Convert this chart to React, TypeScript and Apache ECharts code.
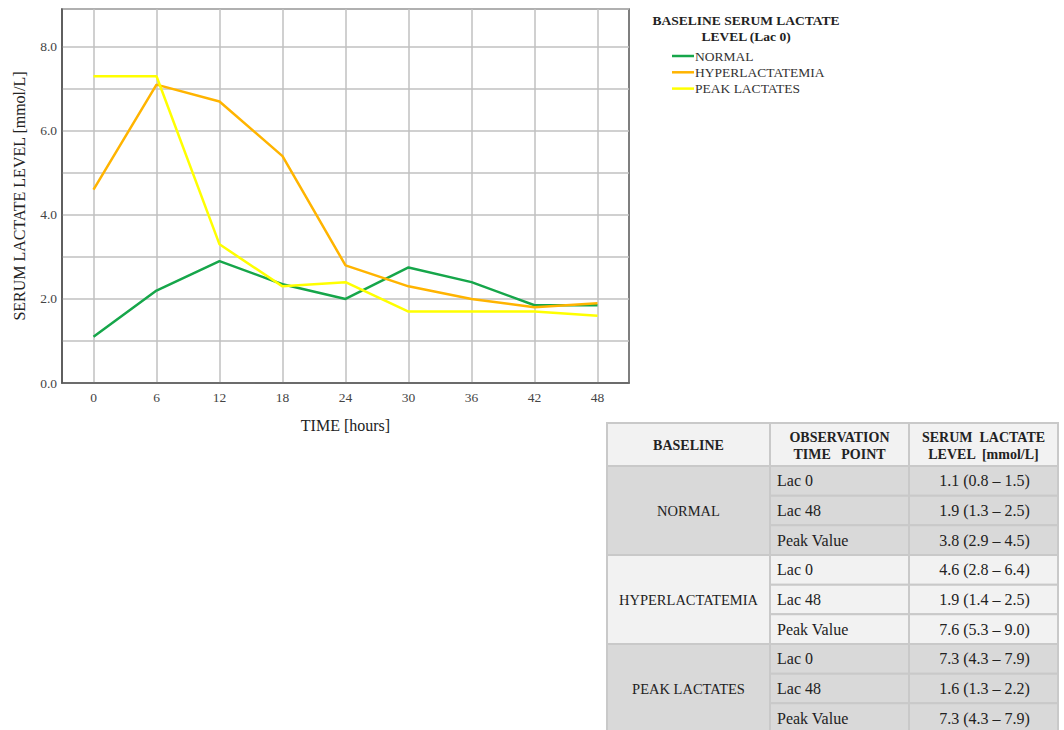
import React, { useEffect, useRef } from 'react';
import * as echarts from 'echarts';

const hours = ['0', '6', '12', '18', '24', '30', '36', '42', '48'];
const normalLevels = [1.1, 2.2, 2.9, 2.35, 2.0, 2.75, 2.4, 1.85, 1.85];
const hyperLevels = [4.6, 7.1, 6.7, 5.4, 2.8, 2.3, 2.0, 1.8, 1.9];
const peakLevels = [7.3, 7.3, 3.3, 2.3, 2.4, 1.7, 1.7, 1.7, 1.6];
const seriesNames = ['NORMAL', 'HYPERLACTATEMIA', 'PEAK LACTATES'];
const seriesColors = ['#16a64a', '#ffb400', '#ffff00'];
const legendTitle = ['BASELINE SERUM LACTATE', 'LEVEL (Lac 0)'];

const tableHeaders = ['BASELINE', 'OBSERVATION\nTIME   POINT', 'SERUM  LACTATE\nLEVEL  [mmol/L]'];
const timePoints = ['Lac 0', 'Lac 48', 'Peak Value'];
const normalValues = ['1.1 (0.8 – 1.5)', '1.9 (1.3 – 2.5)', '3.8 (2.9 – 4.5)'];
const hyperValues = ['4.6 (2.8 – 6.4)', '1.9 (1.4 – 2.5)', '7.6 (5.3 – 9.0)'];
const peakValues = ['7.3 (4.3 – 7.9)', '1.6 (1.3 – 2.2)', '7.3 (4.3 – 7.9)'];

const FONT = '"Liberation Serif", "DejaVu Serif", serif';

function buildTable() {
  const colX = [607, 770, 909, 1058];
  const top = 423;
  const headH = 43;
  const rowH = 29.67;
  const border = '#c9c9c9';
  const headFill = '#f2f2f2';
  const groupFills = ['#d9d9d9', '#f2f2f2', '#d9d9d9'];
  const groupValues = [normalValues, hyperValues, peakValues];
  const els: any[] = [];
  for (let c = 0; c < 3; c++) {
    els.push({
      type: 'rect', silent: true,
      shape: { x: colX[c], y: top, width: colX[c + 1] - colX[c], height: headH },
      style: { fill: headFill, stroke: border, lineWidth: 2 },
    });
    els.push({
      type: 'text', silent: true,
      x: (colX[c] + colX[c + 1]) / 2, y: top + headH / 2 + 1,
      style: {
        text: tableHeaders[c], font: `bold 14px ${FONT}`, fill: '#222',
        align: 'center', verticalAlign: 'middle', lineHeight: 17,
      },
    });
  }
  seriesNames.forEach((g, gi) => {
    const gy = top + headH + gi * 3 * rowH;
    els.push({
      type: 'rect', silent: true,
      shape: { x: colX[0], y: gy, width: colX[1] - colX[0], height: rowH * 3 },
      style: { fill: groupFills[gi], stroke: border, lineWidth: 2 },
    });
    els.push({
      type: 'text', silent: true,
      x: (colX[0] + colX[1]) / 2, y: gy + rowH * 1.5,
      style: { text: g, font: `14.5px ${FONT}`, fill: '#222', align: 'center', verticalAlign: 'middle' },
    });
    timePoints.forEach((tp, ri) => {
      const ry = gy + ri * rowH;
      els.push({
        type: 'rect', silent: true,
        shape: { x: colX[1], y: ry, width: colX[2] - colX[1], height: rowH },
        style: { fill: groupFills[gi], stroke: border, lineWidth: 2 },
      });
      els.push({
        type: 'rect', silent: true,
        shape: { x: colX[2], y: ry, width: colX[3] - colX[2], height: rowH },
        style: { fill: groupFills[gi], stroke: border, lineWidth: 2 },
      });
      els.push({
        type: 'text', silent: true,
        x: colX[1] + 7, y: ry + rowH / 2,
        style: { text: tp, font: `16px ${FONT}`, fill: '#222', align: 'left', verticalAlign: 'middle' },
      });
      els.push({
        type: 'text', silent: true,
        x: (colX[2] + colX[3]) / 2 + 1, y: ry + rowH / 2,
        style: { text: groupValues[gi][ri], font: `16px ${FONT}`, fill: '#222', align: 'center', verticalAlign: 'middle' },
      });
    });
  });
  return els;
}

export default function App() {
  const ref = useRef<HTMLDivElement>(null);
  useEffect(() => {
    if (!ref.current) return;
    const chart = echarts.init(ref.current, undefined, { renderer: 'svg' });
    const values = [normalLevels, hyperLevels, peakLevels];
    const option: any = {
      animation: false,
      backgroundColor: '#ffffff',
      textStyle: { fontFamily: FONT },
      grid: { left: 62, top: 9, width: 567, height: 374, show: true, borderColor: '#555', borderWidth: 1.5, backgroundColor: 'transparent' },
      legend: {
        orient: 'vertical', left: 667, top: 44,
        itemWidth: 22, itemHeight: 14, itemGap: 2.3,
        icon: 'path://M0,6 L22,6 L22,8.5 L0,8.5 Z',
        textStyle: { fontFamily: FONT, fontSize: 13.5, color: '#333', padding: [0, 0, 0, -4] },
        data: seriesNames,
      },
      xAxis: {
        type: 'category', data: hours, boundaryGap: true,
        name: 'TIME [hours]', nameLocation: 'middle', nameGap: 34,
        nameTextStyle: { fontFamily: FONT, fontSize: 16, color: '#222' },
        axisLine: { lineStyle: { color: '#555', width: 1.5 } },
        axisTick: { show: false },
        axisLabel: { fontFamily: FONT, fontSize: 13.5, color: '#444', margin: 7 },
        splitLine: { show: true, alignWithLabel: true, lineStyle: { color: '#c0c0c0', width: 1.5 } },
      },
      yAxis: {
        type: 'value', min: 0, max: 8.9, interval: 1,
        name: 'SERUM LACTATE LEVEL [mmol/L]', nameLocation: 'middle', nameGap: 35,
        nameTextStyle: { fontFamily: FONT, fontSize: 16, color: '#222' },
        axisLine: { show: true, lineStyle: { color: '#555', width: 1.5 } },
        axisTick: { show: false },
        axisLabel: {
          fontFamily: FONT, fontSize: 13.5, color: '#444', margin: 5,
          formatter: (v: number) => (Math.abs(v % 2) < 1e-9 && v <= 8 ? v.toFixed(1) : ''),
        },
        splitLine: { show: true, lineStyle: { color: '#c0c0c0', width: 1.5 } },
      },
      series: seriesNames.map((n, i) => ({
        name: n, type: 'line', data: values[i], symbol: 'none', showSymbol: false,
        lineStyle: { color: seriesColors[i], width: 2.5 }, itemStyle: { color: seriesColors[i] },
      })),
      graphic: [
        ...legendTitle.map((t, i) => ({
          type: 'text', silent: true, x: 746, y: 20 + i * 16,
          style: { text: t, font: `bold 13.5px ${FONT}`, fill: '#222', align: 'center', verticalAlign: 'middle' },
        })),
        ...buildTable(),
      ],
    };
    chart.setOption(option);
    return () => chart.dispose();
  }, []);
  return <div ref={ref} style={{ position: 'absolute', left: 0, top: 0, width: 1064, height: 730 }} />;
}
